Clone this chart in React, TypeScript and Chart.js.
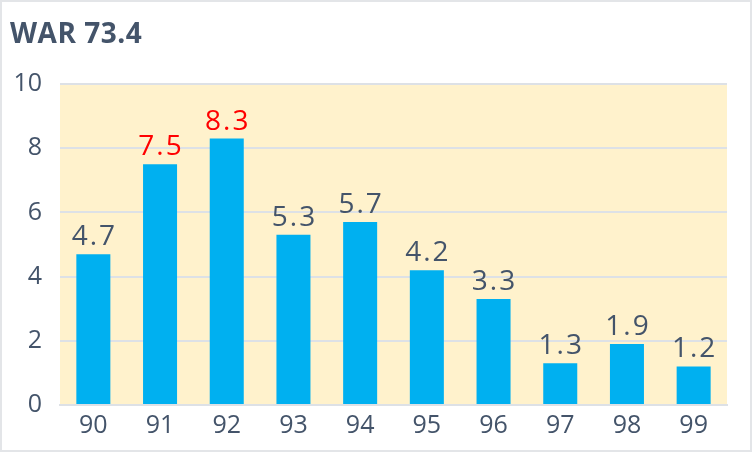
import React, { useEffect, useRef } from "react";
import { Chart, registerables } from "chart.js";

Chart.register(...registerables);

const title = "WAR 73.4";
const categories = ["90", "91", "92", "93", "94", "95", "96", "97", "98", "99"];
const values = [4.7, 7.5, 8.3, 5.3, 5.7, 4.2, 3.3, 1.3, 1.9, 1.2];
const highlighted = ["91", "92"];
const yTicks = [0, 2, 4, 6, 8, 10];

const TEXT = "#44546A";
const RED = "#FF0000";
const BAR = "#00B0F0";
const BG = "#FFF2CC";
const GRID = "#DDE1E6";
const FONT = "'Open Sans', 'Noto Sans', sans-serif";

export default function App() {
  const ref = useRef<HTMLCanvasElement | null>(null);

  useEffect(() => {
    document.body.style.margin = "0";
    const canvas = ref.current;
    if (!canvas) return;

    const plugin = {
      id: "custom",
      beforeDraw(chart: any) {
        const { ctx, chartArea } = chart;
        ctx.save();
        ctx.fillStyle = "#FFFFFF";
        ctx.fillRect(0, 0, chart.width, chart.height);
        ctx.fillStyle = BG;
        ctx.fillRect(chartArea.left, chartArea.top, chartArea.right - chartArea.left, chartArea.bottom - chartArea.top);
        ctx.restore();
      },
      afterDatasetsDraw(chart: any) {
        const { ctx } = chart;
        const meta = chart.getDatasetMeta(0);
        ctx.save();
        ctx.font = `28px ${FONT}`;
        ctx.textAlign = "center";
        ctx.textBaseline = "alphabetic";
        (ctx as any).letterSpacing = "2px";
        meta.data.forEach((bar: any, i: number) => {
          ctx.fillStyle = highlighted.includes(categories[i]) ? RED : TEXT;
          ctx.fillText(values[i].toFixed(1), bar.x + 1, bar.y - 9);
        });
        (ctx as any).letterSpacing = "0.5px";
        ctx.font = `bold 28px ${FONT}`;
        ctx.fillStyle = TEXT;
        ctx.textAlign = "left";
        ctx.fillText(title, 10, 43);
        ctx.restore();
      },
    };

    const chart = new Chart(canvas, {
      type: "bar",
      data: {
        labels: categories,
        datasets: [
          {
            data: values,
            backgroundColor: BAR,
            categoryPercentage: 1,
            barPercentage: 0.51,
          },
        ],
      },
      options: {
        animation: false,
        responsive: false,
        maintainAspectRatio: false,
        devicePixelRatio: 1,
        layout: { padding: { top: 84, right: 25, left: 0, bottom: 0 } },
        plugins: {
          legend: { display: false },
          tooltip: { enabled: false },
          title: { display: false },
        },
        scales: {
          x: {
            grid: { display: false, drawTicks: false },
            border: { display: true, color: GRID, width: 2 },
            ticks: { color: TEXT, font: { family: FONT, size: 25 }, padding: 6 },
            afterFit(scale: any) {
              scale.height = 47;
            },
          },
          y: {
            min: 0,
            max: 10,
            afterBuildTicks(scale: any) {
              scale.ticks = yTicks.map((v) => ({ value: v }));
            },
            grid: { color: GRID, lineWidth: 2, drawTicks: false },
            border: { display: false },
            ticks: { color: TEXT, font: { family: FONT, size: 25 }, padding: 18 },
            afterFit(scale: any) {
              scale.width = 60;
            },
          },
        },
      },
      plugins: [plugin],
    });
    return () => chart.destroy();
  }, []);

  return (
    <div style={{ position: "relative", width: 752, height: 452 }}>
      <canvas ref={ref} width={752} height={452} style={{ display: "block", width: 752, height: 452 }} />
      <div
        style={{
          position: "absolute",
          left: 0,
          top: 0,
          width: 752,
          height: 452,
          boxSizing: "border-box",
          border: "2px solid #E3E5E8",
          pointerEvents: "none",
        }}
      />
    </div>
  );
}
